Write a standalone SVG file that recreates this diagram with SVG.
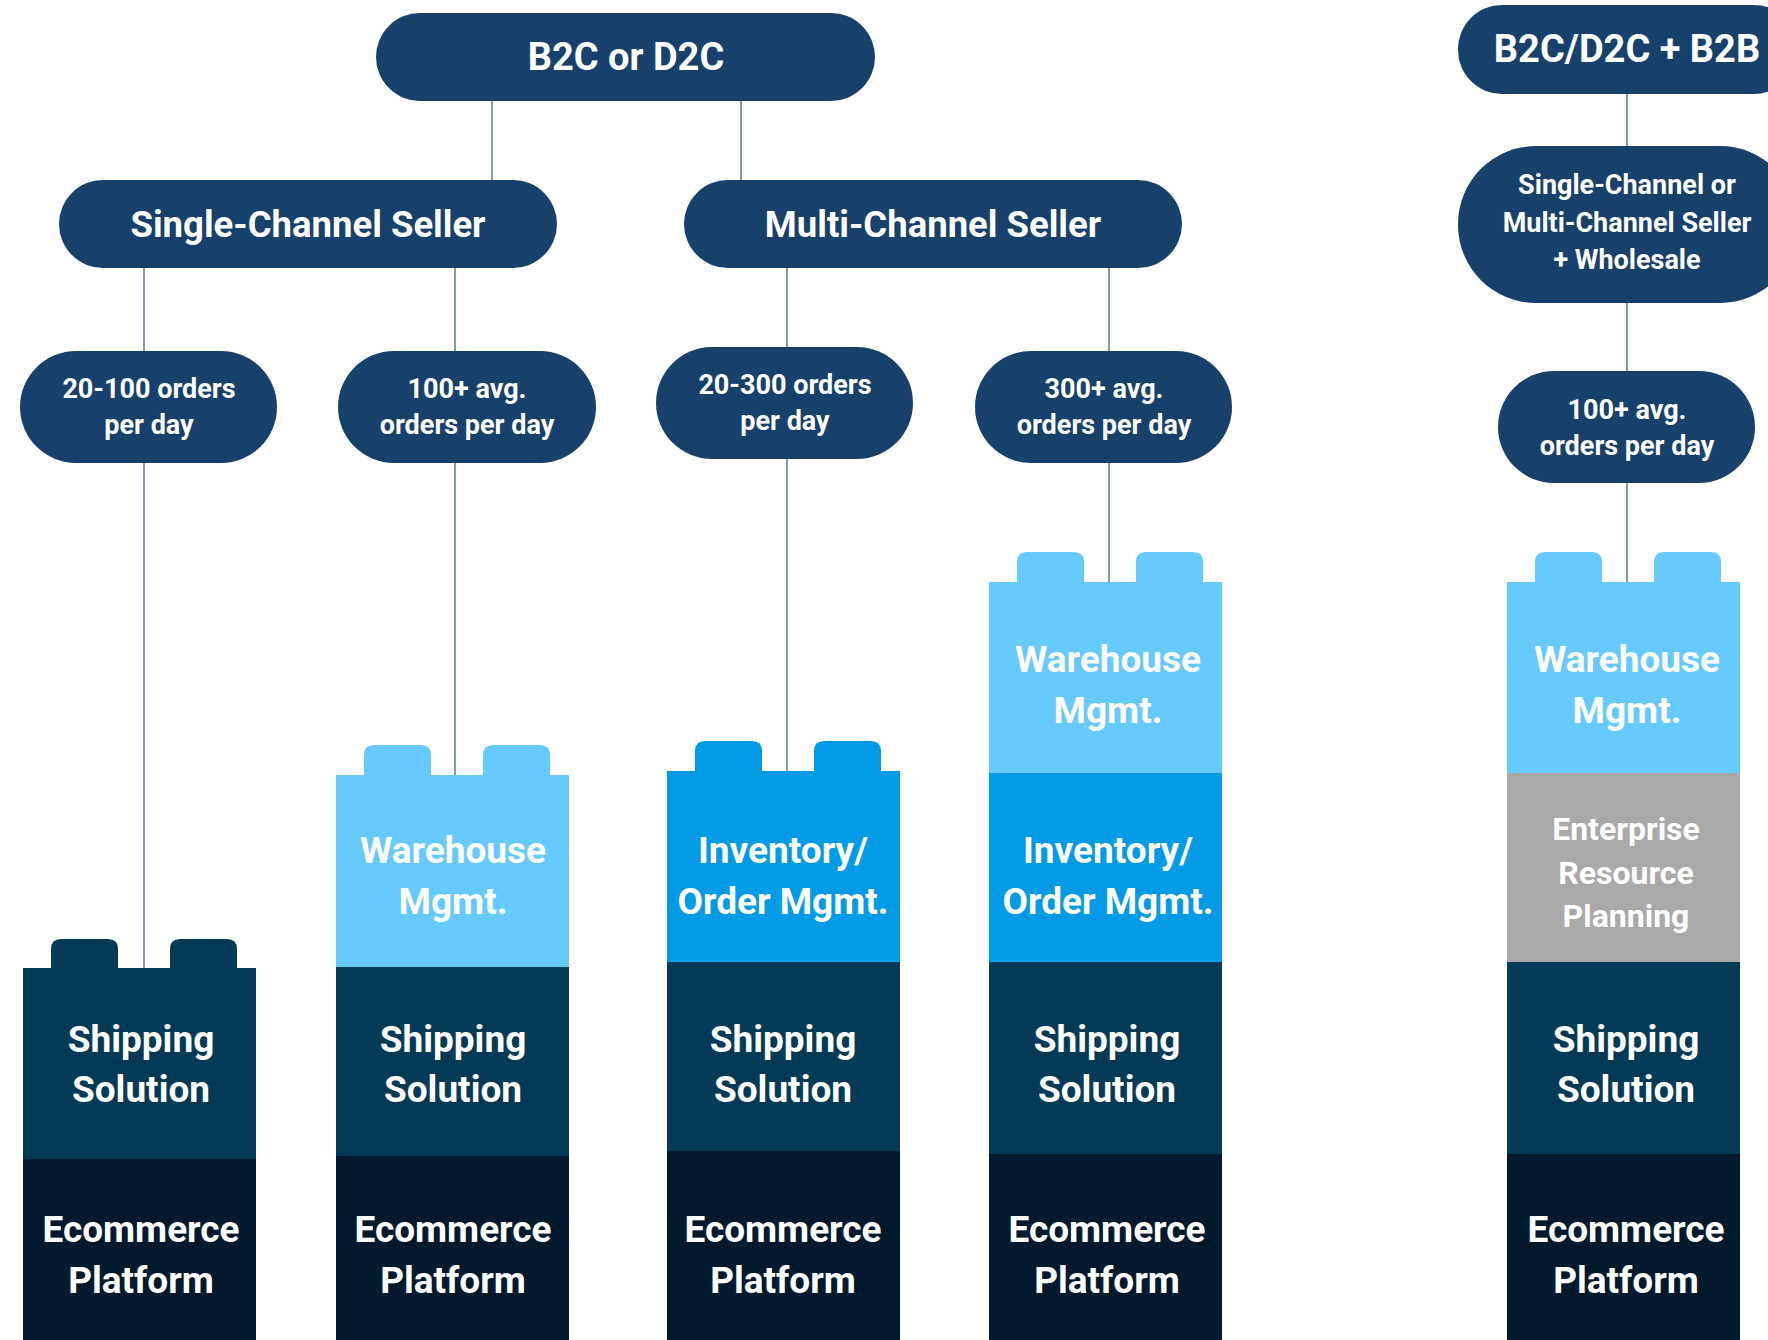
<svg xmlns="http://www.w3.org/2000/svg" xmlns:xlink="http://www.w3.org/1999/xlink" width="1768" height="1340" viewBox="0 0 1768 1340">
  <style>
    .pill { fill: #17416a; }
    .t { font-family: Roboto, "Liberation Sans", sans-serif; font-weight: 700; fill: #ffffff; text-anchor: middle; }
    .big { font-size: 38px; }
    .chan { font-size: 36.5px; }
    .mid { font-size: 27px; }
    .blk { font-size: 37px; }
    .erp-t { font-size: 32px; }
    .wh { fill: #66cafe; }
    .inv { fill: #039be6; }
    .erp { fill: #a9a9a9; }
    .shp { fill: #043a55; }
    .eco { fill: #031a2e; }
    .link { stroke: #5b7b99; stroke-width: 1.5; fill: none; }
  </style>
  <defs>
    <!-- brick stud, 67 wide, 30 high, rounded top -->
    <path id="stud" d="M0 30 V10 Q0 0 10 0 H57 Q67 0 67 10 V30 Z"/>
  </defs>
  <rect width="1768" height="1340" fill="#ffffff"/>

  <!-- connectors -->
  <g id="connectors">
    <line class="link" x1="492" y1="101" x2="492" y2="180"/>
    <line class="link" x1="741" y1="101" x2="741" y2="180"/>
    <line class="link" x1="144" y1="268" x2="144" y2="351"/>
    <line class="link" x1="455" y1="268" x2="455" y2="351"/>
    <line class="link" x1="787" y1="268" x2="787" y2="347"/>
    <line class="link" x1="1109" y1="268" x2="1109" y2="351"/>
    <line class="link" x1="144" y1="463" x2="144" y2="968"/>
    <line class="link" x1="455" y1="463" x2="455" y2="775"/>
    <line class="link" x1="787" y1="459" x2="787" y2="771"/>
    <line class="link" x1="1109" y1="463" x2="1109" y2="582"/>
    <line class="link" x1="1627" y1="94" x2="1627" y2="146"/>
    <line class="link" x1="1627" y1="303" x2="1627" y2="371"/>
    <line class="link" x1="1627" y1="483" x2="1627" y2="582"/>
  </g>

  <!-- top-level pills -->
  <g id="b2c">
    <rect class="pill" x="376" y="13" width="499" height="88" rx="44"/>
    <text class="t big" x="626" y="70">B2C or D2C</text>
  </g>
  <g id="b2b">
    <rect class="pill" x="1458" y="5" width="340" height="89" rx="44"/>
    <text class="t big" x="1627" y="62">B2C/D2C + B2B</text>
  </g>

  <!-- channel pills -->
  <g id="single-channel">
    <rect class="pill" x="59" y="180" width="498" height="88" rx="44"/>
    <text class="t chan" x="308" y="237">Single-Channel Seller</text>
  </g>
  <g id="multi-channel">
    <rect class="pill" x="684" y="180" width="498" height="88" rx="44"/>
    <text class="t chan" x="933" y="237">Multi-Channel Seller</text>
  </g>
  <g id="wholesale">
    <rect class="pill" x="1458" y="146" width="340" height="157" rx="78"/>
    <text class="t mid" x="1627" y="194">Single-Channel or</text>
    <text class="t mid" x="1627" y="232">Multi-Channel Seller</text>
    <text class="t mid" x="1627" y="269">+ Wholesale</text>
  </g>

  <!-- order volume pills -->
  <g id="orders-20-100">
    <rect class="pill" x="20" y="351" width="257" height="112" rx="56"/>
    <text class="t mid" x="149" y="398">20-100 orders</text>
    <text class="t mid" x="149" y="434">per day</text>
  </g>
  <g id="orders-100-single">
    <rect class="pill" x="338" y="351" width="258" height="112" rx="56"/>
    <text class="t mid" x="467" y="398">100+ avg.</text>
    <text class="t mid" x="467" y="434">orders per day</text>
  </g>
  <g id="orders-20-300">
    <rect class="pill" x="656" y="347" width="257" height="112" rx="56"/>
    <text class="t mid" x="785" y="394">20-300 orders</text>
    <text class="t mid" x="785" y="430">per day</text>
  </g>
  <g id="orders-300">
    <rect class="pill" x="975" y="351" width="257" height="112" rx="56"/>
    <text class="t mid" x="1104" y="398">300+ avg.</text>
    <text class="t mid" x="1104" y="434">orders per day</text>
  </g>
  <g id="orders-100-b2b">
    <rect class="pill" x="1498" y="371" width="257" height="112" rx="56"/>
    <text class="t mid" x="1627" y="419">100+ avg.</text>
    <text class="t mid" x="1627" y="455">orders per day</text>
  </g>

  <!-- stack 1: shipping + ecommerce -->
  <g id="stack-1">
    <use xlink:href="#stud" href="#stud" class="shp" x="51" y="939"/>
    <use xlink:href="#stud" href="#stud" class="shp" x="170" y="939"/>
    <rect class="shp" x="23" y="968" width="233" height="191"/>
    <rect class="eco" x="23" y="1159" width="233" height="181"/>
    <text class="t blk" x="141" y="1052">Shipping</text>
    <text class="t blk" x="141" y="1102">Solution</text>
    <text class="t blk" x="141" y="1242">Ecommerce</text>
    <text class="t blk" x="141" y="1293">Platform</text>
  </g>

  <!-- stack 2: warehouse + shipping + ecommerce -->
  <g id="stack-2">
    <use xlink:href="#stud" href="#stud" class="wh" x="364" y="745"/>
    <use xlink:href="#stud" href="#stud" class="wh" x="483" y="745"/>
    <rect class="wh" x="336" y="775" width="233" height="192"/>
    <rect class="shp" x="336" y="967" width="233" height="189"/>
    <rect class="eco" x="336" y="1156" width="233" height="184"/>
    <text class="t blk" x="453" y="863">Warehouse</text>
    <text class="t blk" x="453" y="914">Mgmt.</text>
    <text class="t blk" x="453" y="1052">Shipping</text>
    <text class="t blk" x="453" y="1102">Solution</text>
    <text class="t blk" x="453" y="1242">Ecommerce</text>
    <text class="t blk" x="453" y="1293">Platform</text>
  </g>

  <!-- stack 3: inventory + shipping + ecommerce -->
  <g id="stack-3">
    <use xlink:href="#stud" href="#stud" class="inv" x="695" y="741"/>
    <use xlink:href="#stud" href="#stud" class="inv" x="814" y="741"/>
    <rect class="inv" x="667" y="771" width="233" height="191"/>
    <rect class="shp" x="667" y="962" width="233" height="189"/>
    <rect class="eco" x="667" y="1151" width="233" height="189"/>
    <text class="t blk" x="783" y="863">Inventory/</text>
    <text class="t blk" x="783" y="914">Order Mgmt.</text>
    <text class="t blk" x="783" y="1052">Shipping</text>
    <text class="t blk" x="783" y="1102">Solution</text>
    <text class="t blk" x="783" y="1242">Ecommerce</text>
    <text class="t blk" x="783" y="1293">Platform</text>
  </g>

  <!-- stack 4: warehouse + inventory + shipping + ecommerce -->
  <g id="stack-4">
    <use xlink:href="#stud" href="#stud" class="wh" x="1017" y="552"/>
    <use xlink:href="#stud" href="#stud" class="wh" x="1136" y="552"/>
    <rect class="wh" x="989" y="582" width="233" height="191"/>
    <rect class="inv" x="989" y="773" width="233" height="189"/>
    <rect class="shp" x="989" y="962" width="233" height="192"/>
    <rect class="eco" x="989" y="1154" width="233" height="186"/>
    <text class="t blk" x="1108" y="672">Warehouse</text>
    <text class="t blk" x="1108" y="723">Mgmt.</text>
    <text class="t blk" x="1108" y="863">Inventory/</text>
    <text class="t blk" x="1108" y="914">Order Mgmt.</text>
    <text class="t blk" x="1107" y="1052">Shipping</text>
    <text class="t blk" x="1107" y="1102">Solution</text>
    <text class="t blk" x="1107" y="1242">Ecommerce</text>
    <text class="t blk" x="1107" y="1293">Platform</text>
  </g>

  <!-- stack 5: warehouse + ERP + shipping + ecommerce -->
  <g id="stack-5">
    <use xlink:href="#stud" href="#stud" class="wh" x="1535" y="552"/>
    <use xlink:href="#stud" href="#stud" class="wh" x="1654" y="552"/>
    <rect class="wh" x="1507" y="582" width="233" height="191"/>
    <rect class="erp" x="1507" y="773" width="233" height="189"/>
    <rect class="shp" x="1507" y="962" width="233" height="192"/>
    <rect class="eco" x="1507" y="1154" width="233" height="186"/>
    <text class="t blk" x="1627" y="672">Warehouse</text>
    <text class="t blk" x="1627" y="723">Mgmt.</text>
    <text class="t erp-t" x="1626" y="840">Enterprise</text>
    <text class="t erp-t" x="1626" y="884">Resource</text>
    <text class="t erp-t" x="1626" y="927">Planning</text>
    <text class="t blk" x="1626" y="1052">Shipping</text>
    <text class="t blk" x="1626" y="1102">Solution</text>
    <text class="t blk" x="1626" y="1242">Ecommerce</text>
    <text class="t blk" x="1626" y="1293">Platform</text>
  </g>
</svg>
